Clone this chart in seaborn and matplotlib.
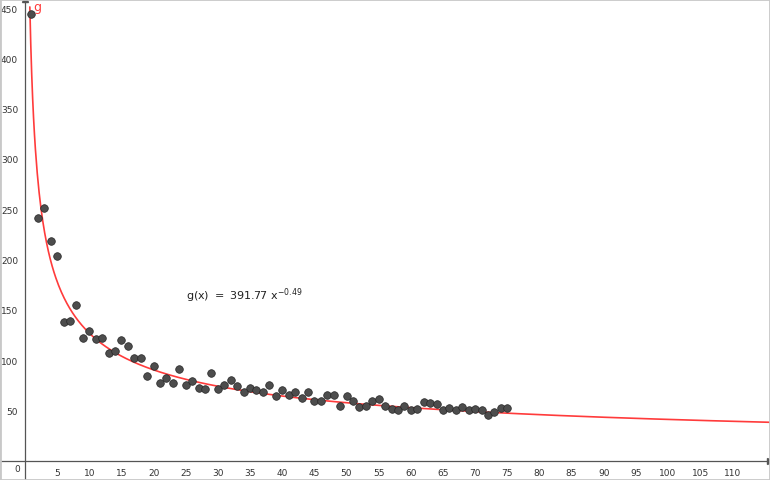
import numpy as np
import pandas as pd
import matplotlib
matplotlib.use("Agg")
import matplotlib.pyplot as plt
from matplotlib.patches import Rectangle
import seaborn as sns

# data points (x = 1..75)
x_vals = list(range(1, 76))
y_vals = [444, 241, 251, 218, 203, 138, 139, 155, 122, 129,
          121, 122, 107, 109, 120, 114, 102, 102, 84, 94,
          77, 82, 77, 91, 75, 79, 72, 71, 87, 71,
          75, 80, 74, 68, 72, 70, 68, 75, 64, 70,
          65, 68, 62, 68, 59, 59, 65, 65, 54, 64,
          59, 53, 54, 59, 61, 54, 51, 50, 54, 50,
          51, 58, 57, 56, 50, 52, 50, 53, 50, 51,
          50, 45, 48, 52, 52]

# fitted power function g(x) = a * x^b
coef_a = 391.77
coef_b = -0.49

x_ticks = list(range(5, 115, 5))
y_ticks = list(range(50, 500, 50))

points = pd.DataFrame({"x": x_vals, "y": y_vals})
xs = np.linspace(0.75, 116, 800)
curve = pd.DataFrame({"x": xs, "g": coef_a * xs ** coef_b})

sns.set_style("white")
fig = plt.figure(figsize=(7.7, 4.81), dpi=100)
ax = fig.add_axes([0, 0, 1, 1])

sns.lineplot(data=curve, x="x", y="g", ax=ax, color="#ff3b3b",
             linewidth=1.2, zorder=2)
sns.scatterplot(data=points, x="x", y="y", ax=ax, s=30,
                color="#4d4d4d", edgecolor="#262626", linewidth=0.5,
                zorder=3)

ax.set_xlim(-3.89, 115.86)
ax.set_ylim(-19.2, 459)

# axes through the origin, geogebra style
for side in ["top", "right"]:
    ax.spines[side].set_visible(False)
ax.spines["left"].set_position(("data", 0))
ax.spines["bottom"].set_position(("data", 0))
for side in ["left", "bottom"]:
    ax.spines[side].set_color("#555555")
    ax.spines[side].set_linewidth(0.9)

ax.set_xticks(x_ticks)
ax.set_yticks(y_ticks)
ax.tick_params(axis="both", direction="out", length=3, width=0.7,
               color="#555555", labelsize=6.5, labelcolor="#333333", pad=2)
ax.set_xlabel("")
ax.set_ylabel("")

# arrow heads at the axis ends
ax.plot(1, 0, marker=">", ms=4, color="#555555",
        transform=ax.get_yaxis_transform(), clip_on=False)
ax.plot(0, 1, marker="^", ms=4, color="#555555",
        transform=ax.get_xaxis_transform(), clip_on=False)

ax.text(-0.8, -3, "0", fontsize=6.5, color="#333333", ha="right", va="top")
ax.text(1.3, 452, "g", fontsize=9, color="#ff3b3b", ha="left", va="center")
ax.text(25, 161, r"$\mathregular{g(x)\ =\ 391.77\ x^{-0.49}}$",
        fontsize=8, color="#222222", ha="left", va="baseline")

# thin light frame round the view
fig.patches.append(Rectangle((0, 0), 1, 1, transform=fig.transFigure,
                             fill=False, edgecolor="#c8c8c8", linewidth=2))

fig.savefig("out.png", dpi=100)
